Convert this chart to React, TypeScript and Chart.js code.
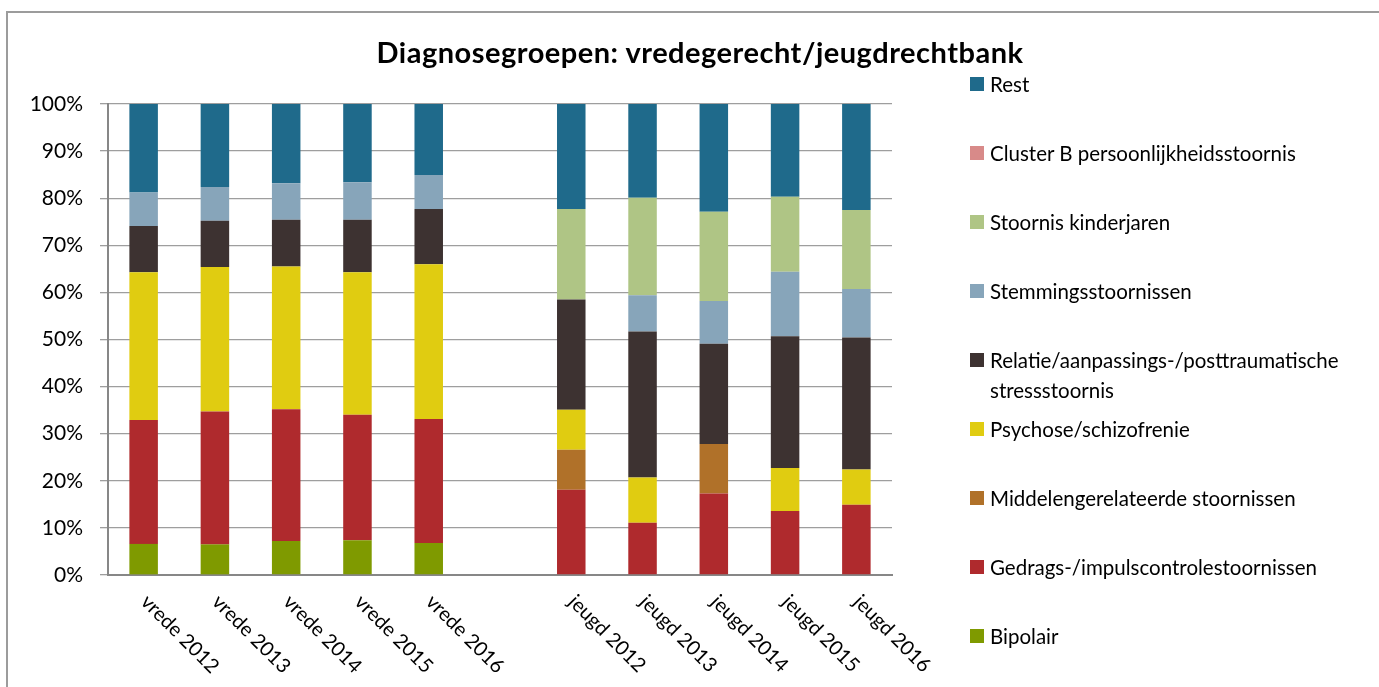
import React, { useEffect, useRef } from "react";
import { Chart, registerables } from "chart.js";

Chart.register(...registerables);

const categories = [
  "vrede 2012", "vrede 2013", "vrede 2014", "vrede 2015", "vrede 2016", "",
  "jeugd 2012", "jeugd 2013", "jeugd 2014", "jeugd 2015", "jeugd 2016",
];

const bipolair = [6.6, 6.5, 7.2, 7.4, 6.8, null, 0, 0, 0, 0, 0];
const gedrag = [26.3, 28.2, 28.0, 26.6, 26.3, null, 18.1, 11.1, 17.3, 13.6, 14.9];
const middelen = [0, 0, 0, 0, 0, null, 8.5, 0, 10.5, 0, 0];
const psychose = [31.4, 30.7, 30.3, 30.3, 32.9, null, 8.5, 9.6, 0, 9.1, 7.5];
const relatie = [9.8, 9.8, 9.9, 11.1, 11.7, null, 23.4, 31.0, 21.3, 28.0, 28.0];
const stemming = [7.1, 7.2, 7.8, 8.0, 7.2, null, 0, 7.7, 9.1, 13.7, 10.3];
const kinderjaren = [0, 0, 0, 0, 0, null, 19.2, 20.7, 18.9, 15.9, 16.8];
const clusterB = [0, 0, 0, 0, 0, null, 0, 0, 0, 0, 0];
const rest = [18.8, 17.6, 16.8, 16.6, 15.1, null, 22.3, 19.9, 22.9, 19.7, 22.5];

const yTicks = [0, 10, 20, 30, 40, 50, 60, 70, 80, 90, 100];

const TITLE = "Diagnosegroepen: vredegerecht/jeugdrechtbank";
const FONT = "Lato, 'Open Sans', sans-serif";

const series = [
  { label: "Bipolair", data: bipolair, color: "#7F9A00" },
  { label: "Gedrags-/impulscontrolestoornissen", data: gedrag, color: "#AF2A2D" },
  { label: "Middelengerelateerde stoornissen", data: middelen, color: "#B07129" },
  { label: "Psychose/schizofrenie", data: psychose, color: "#E0CC11" },
  { label: "Relatie/aanpassings-/posttraumatische stressstoornis", data: relatie, color: "#3D3231" },
  { label: "Stemmingsstoornissen", data: stemming, color: "#87A5BA" },
  { label: "Stoornis kinderjaren", data: kinderjaren, color: "#AFC585" },
  { label: "Cluster B persoonlijkheidsstoornis", data: clusterB, color: "#D88A89" },
  { label: "Rest", data: rest, color: "#1F6A8B" },
];

const xLabelPlugin = {
  id: "rotatedXLabels",
  afterDraw(chart: any) {
    const ctx = chart.ctx;
    const xScale = chart.scales.x;
    const bottom = chart.chartArea.bottom;
    ctx.save();
    ctx.font = `20px ${FONT}`;
    ctx.fillStyle = "#000";
    ctx.textAlign = "left";
    ctx.textBaseline = "alphabetic";
    categories.forEach((c, i) => {
      if (!c) return;
      const x = xScale.getPixelForValue(i);
      ctx.save();
      ctx.translate(x - 4, bottom + 28);
      ctx.rotate(Math.PI / 4);
      ctx.fillText(c, 0, 0);
      ctx.restore();
    });
    ctx.restore();
  },
};

export default function App() {
  const ref = useRef<HTMLCanvasElement | null>(null);

  useEffect(() => {
    if (!ref.current) return;
    const chart = new Chart(ref.current, {
      type: "bar",
      data: {
        labels: categories,
        datasets: series.map((s) => ({
          label: s.label,
          data: s.data as any,
          backgroundColor: s.color,
          borderWidth: 0,
          categoryPercentage: 1,
          barPercentage: 0.4,
        })),
      },
      options: {
        responsive: false,
        animation: false,
        layout: { padding: { left: 0, top: 104, right: 487, bottom: 112 } },
        plugins: {
          legend: { display: false },
          title: { display: false },
          tooltip: { enabled: false },
        },
        scales: {
          x: {
            stacked: true,
            offset: true,
            ticks: { display: false },
            grid: { display: false, drawTicks: false },
            border: { display: true, color: "#878787", width: 2 },
            afterFit: (s: any) => { s.height = 0; },
          },
          y: {
            stacked: true,
            min: 0,
            max: 100,
            afterBuildTicks: (s: any) => { s.ticks = yTicks.map((v) => ({ value: v })); },
            ticks: {
              callback: (v: any) => `${v}%`,
              font: { family: FONT, size: 21 },
              color: "#000",
              padding: 17,
            },
            grid: { color: "#9e9e9e", lineWidth: 1.3, tickLength: 8, drawTicks: true },
            border: { display: true, color: "#878787", width: 2 },
            afterFit: (s: any) => { s.width = 108; },
          },
        },
      },
      plugins: [xLabelPlugin],
    });
    return () => chart.destroy();
  }, []);

  const legendItems = [...series].reverse();

  return (
    <div style={{ position: "fixed", left: 0, top: 0, width: 1379, height: 687, background: "#fff", overflow: "hidden", fontFamily: FONT }}>
      <div style={{ position: "absolute", left: 6, top: 11, width: 1400, height: 700, border: "2px solid #9c9c9c", boxSizing: "border-box" }} />
      <canvas ref={ref} width={1379} height={687} style={{ position: "absolute", left: 0, top: 0 }} />
      <div style={{ position: "absolute", left: 0, top: 34, width: 1400, textAlign: "center", fontWeight: 700, fontSize: 29, letterSpacing: 0.5, lineHeight: "36px", color: "#000" }}>
        {TITLE}
      </div>
      <div style={{ position: "absolute", left: 970, top: 69, width: 405 }}>
        {legendItems.map((s) => (
          <div key={s.label} style={{ height: 69, display: "flex", alignItems: "flex-start" }}>
            <div style={{ width: 14, height: 14, background: s.color, marginTop: 8, flex: "0 0 14px" }} />
            <div style={{ marginLeft: 6, fontSize: 20.5, lineHeight: "30px", color: "#000" }}>{s.label}</div>
          </div>
        ))}
      </div>
    </div>
  );
}
